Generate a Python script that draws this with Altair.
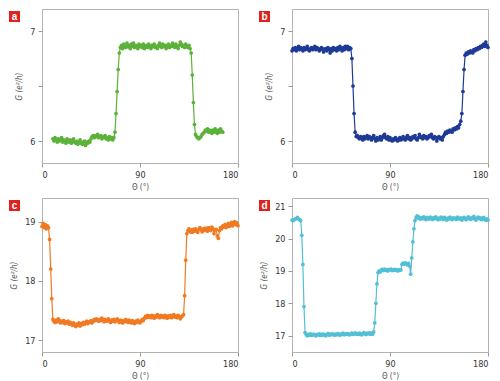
import altair as alt
import pandas as pd

# ---------------- data ----------------
theta_a = list(range(10, 167))
g_a = [
    6.02, 6.00, 6.03, 6.01, 5.99, 6.02, 6.00, 6.01, 6.03, 5.99,
    6.01, 6.00, 5.98, 6.02, 6.00, 5.99, 6.01, 5.98, 6.00, 6.02,
    5.99, 5.98, 6.00, 5.97, 5.99, 6.01, 5.98, 5.97, 5.99, 6.00,
    5.96, 5.99, 5.98, 6.00, 5.99, 6.02, 6.04, 6.05, 6.03, 6.05,
    6.04, 6.06, 6.03, 6.04, 6.05, 6.02, 6.04, 6.03, 6.05, 6.02,
    6.03, 6.01, 6.04, 6.02, 6.03, 6.01, 6.03, 6.08, 6.25, 6.45,
    6.65, 6.80, 6.85, 6.87, 6.84, 6.88, 6.86, 6.85, 6.89, 6.86,
    6.87, 6.84, 6.88, 6.86, 6.89, 6.85, 6.87, 6.86, 6.84, 6.88,
    6.86, 6.87, 6.85, 6.88, 6.84, 6.86, 6.87, 6.85, 6.88, 6.86,
    6.84, 6.87, 6.86, 6.88, 6.85, 6.86, 6.84, 6.87, 6.89, 6.86,
    6.85, 6.88, 6.86, 6.87, 6.84, 6.86, 6.88, 6.85, 6.87, 6.86,
    6.89, 6.87, 6.85, 6.88, 6.86, 6.84, 6.87, 6.90, 6.88, 6.86,
    6.87, 6.85, 6.88, 6.86, 6.85, 6.87, 6.84, 6.80, 6.60, 6.35,
    6.15, 6.06, 6.04, 6.03, 6.02, 6.03, 6.04, 6.06, 6.07, 6.08,
    6.10, 6.09, 6.11, 6.08, 6.10, 6.09, 6.07, 6.10, 6.08, 6.11,
    6.09, 6.07, 6.10, 6.08, 6.11, 6.09, 6.08,
]

theta_b = list(range(0, 181))
g_b = [
    6.82, 6.84, 6.83, 6.85, 6.82, 6.84, 6.86, 6.83, 6.85, 6.84,
    6.82, 6.85, 6.83, 6.84, 6.86, 6.83, 6.82, 6.84, 6.85, 6.83,
    6.84, 6.86, 6.83, 6.85, 6.84, 6.82, 6.83, 6.85, 6.84, 6.81,
    6.83, 6.84, 6.82, 6.85, 6.83, 6.80, 6.84, 6.82, 6.85, 6.83,
    6.84, 6.82, 6.85, 6.83, 6.86, 6.84, 6.82, 6.85, 6.83, 6.86,
    6.84, 6.86, 6.83, 6.85, 6.84, 6.75, 6.50, 6.25, 6.08, 6.04,
    6.05, 6.03, 6.02, 6.04, 6.03, 6.01, 6.04, 6.02, 6.03, 6.05,
    6.02, 6.04, 6.03, 6.01, 6.03, 6.05, 6.02, 6.00, 6.03, 6.01,
    6.02, 6.04, 6.01, 6.03, 6.05, 6.06, 6.03, 6.02, 6.04, 6.01,
    6.03, 6.01, 6.00, 6.02, 6.01, 6.03, 6.02, 6.00, 6.01, 6.03,
    6.01, 6.02, 6.04, 6.02, 6.01, 6.03, 6.05, 6.02, 6.03, 6.01,
    6.02, 6.04, 6.03, 6.05, 6.02, 6.01, 6.03, 6.06, 6.04, 6.03,
    6.02, 6.05, 6.03, 6.04, 6.02, 6.03, 6.05, 6.04, 6.06, 6.03,
    6.02, 6.04, 6.03, 6.00, 6.03, 6.04, 6.02, 6.03, 6.01, 6.04,
    6.06, 6.08, 6.07, 6.09, 6.08, 6.10, 6.09, 6.08, 6.11, 6.10,
    6.12, 6.11, 6.13, 6.12, 6.15, 6.18, 6.25, 6.45, 6.65, 6.78,
    6.80, 6.79, 6.81, 6.80, 6.82, 6.81, 6.80, 6.83, 6.82, 6.84,
    6.83, 6.85, 6.84, 6.86, 6.85, 6.87, 6.88, 6.86, 6.90, 6.87,
    6.85,
]

theta_c = list(range(0, 181))
g_c = [
    18.92, 18.97, 18.90, 18.95, 18.88, 18.93, 18.90, 18.70, 18.20, 17.70,
    17.35, 17.32, 17.30, 17.34, 17.31, 17.36, 17.33, 17.29, 17.32, 17.30,
    17.33, 17.28, 17.31, 17.29, 17.32, 17.27, 17.30, 17.28, 17.25, 17.29,
    17.26, 17.23, 17.27, 17.25, 17.29, 17.24, 17.28, 17.26, 17.30, 17.27,
    17.29, 17.32, 17.28, 17.31, 17.30, 17.33, 17.29, 17.32, 17.35, 17.33,
    17.36, 17.34, 17.32, 17.35, 17.33, 17.37, 17.34, 17.31, 17.35, 17.33,
    17.32, 17.36, 17.33, 17.30, 17.34, 17.32, 17.35, 17.31, 17.33, 17.36,
    17.33, 17.30, 17.34, 17.32, 17.29, 17.33, 17.31, 17.35, 17.32, 17.30,
    17.34, 17.31, 17.29, 17.33, 17.30, 17.28, 17.32, 17.30, 17.34, 17.31,
    17.29, 17.32, 17.35, 17.33, 17.37, 17.40, 17.38, 17.42, 17.39, 17.41,
    17.38, 17.42, 17.40, 17.37, 17.41, 17.39, 17.43, 17.40, 17.38, 17.42,
    17.39, 17.41, 17.38, 17.42, 17.40, 17.37, 17.41, 17.39, 17.42, 17.38,
    17.40, 17.43, 17.39, 17.41, 17.38, 17.42, 17.40, 17.36, 17.39, 17.41,
    17.43, 17.75, 18.35, 18.80, 18.85, 18.88, 18.83, 18.86, 18.82, 18.87,
    18.84, 18.88, 18.85, 18.82, 18.87, 18.90, 18.86, 18.83, 18.88, 18.85,
    18.89, 18.86, 18.84, 18.90, 18.87, 18.85, 18.91, 18.88, 18.80, 18.86,
    18.87, 18.76, 18.72, 18.85, 18.90, 18.88, 18.93, 18.91, 18.95, 18.90,
    18.94, 18.97, 18.92, 18.96, 18.99, 18.93, 18.97, 19.00, 18.95, 18.98,
    18.93,
]

theta_d = list(range(0, 181))
g_d = [
    20.57, 20.55, 20.58, 20.60, 20.62, 20.65, 20.60, 20.58, 20.55, 20.10,
    19.20, 17.90, 17.10, 17.05, 17.00, 17.04, 17.02, 17.06, 17.01, 17.03,
    17.05, 17.02, 17.00, 17.04, 17.03, 17.06, 17.01, 17.04, 17.02, 17.05,
    17.03, 17.00, 17.04, 17.07, 17.02, 17.05, 17.03, 17.06, 17.04, 17.02,
    17.05, 17.03, 17.07, 17.04, 17.02, 17.06, 17.04, 17.08, 17.03, 17.05,
    17.07, 17.04, 17.06, 17.03, 17.05, 17.08, 17.04, 17.06, 17.09, 17.05,
    17.07, 17.04, 17.08, 17.05, 17.03, 17.07, 17.10, 17.06, 17.04, 17.08,
    17.06, 17.09, 17.05, 17.08, 17.05, 17.12, 17.40, 18.00, 18.60, 18.95,
    19.00, 18.97, 19.03, 19.05, 19.01, 19.06, 19.02, 19.04, 19.00, 19.05,
    19.03, 19.06, 19.01, 19.04, 19.02, 19.05, 19.03, 19.00, 19.04, 19.02,
    19.03, 19.20, 19.24, 19.21, 19.25, 19.22, 19.19, 19.23, 19.15, 18.90,
    19.40, 19.90, 20.30, 20.55, 20.65, 20.70, 20.62, 20.66, 20.60, 20.64,
    20.61, 20.67, 20.63, 20.58, 20.65, 20.62, 20.60, 20.66, 20.63, 20.59,
    20.64, 20.61, 20.67, 20.62, 20.58, 20.63, 20.60, 20.66, 20.62, 20.59,
    20.65, 20.61, 20.57, 20.63, 20.60, 20.66, 20.62, 20.58, 20.64, 20.61,
    20.63, 20.59, 20.66, 20.62, 20.60, 20.64, 20.57, 20.62, 20.65, 20.60,
    20.58, 20.63, 20.67, 20.61, 20.59, 20.64, 20.62, 20.68, 20.60, 20.57,
    20.63, 20.66, 20.61, 20.64, 20.58, 20.62, 20.65, 20.59, 20.56, 20.61,
    20.57,
]

panels = [
    ("a", theta_a, g_a, "#5bb23a", [5.8, 7.2], [6, 6.5, 7]),
    ("b", theta_b, g_b, "#1f3a96", [5.8, 7.2], [6, 6.5, 7]),
    ("c", theta_c, g_c, "#f07a22", [16.8, 19.4], [17, 18, 19]),
    ("d", theta_d, g_d, "#52c0d4", [16.5, 21.25], [17, 18, 19, 20, 21]),
]
x_ticks = [0, 90, 180]

FONT = "Liberation Sans Narrow, DejaVu Sans Condensed, Liberation Sans, sans-serif"
W, H = 196, 154


def panel(label, xs, ys, color, ydom, yticks):
    df = pd.DataFrame({"theta": xs, "G": ys})
    base = alt.Chart(df)
    xenc = alt.X(
        "theta:Q",
        scale=alt.Scale(domain=[0, 180], nice=False),
        axis=alt.Axis(values=x_ticks, title="Θ (°)", grid=False),
    )
    yenc = alt.Y(
        "G:Q",
        scale=alt.Scale(domain=ydom, nice=False, zero=False),
        axis=alt.Axis(
            values=yticks,
            title="G (e²/h)",
            grid=False,
            labelExpr="datum.value % 1 == 0 ? format(datum.value, 'd') : ''",
        ),
    )
    line = base.mark_line(color=color, strokeWidth=1.2).encode(x=xenc, y=yenc)
    pts = base.mark_circle(color=color, size=14, opacity=1).encode(x=xenc, y=yenc)
    lab = pd.DataFrame({"l": [label]})
    box = alt.Chart(lab).mark_rect(color="#e0221f").encode(
        x=alt.value(-33), x2=alt.value(-22), y=alt.value(2), y2=alt.value(13)
    )
    txt = alt.Chart(lab).mark_text(
        color="white", font="Liberation Sans, sans-serif", fontSize=10,
        fontWeight="bold", align="center", baseline="middle"
    ).encode(x=alt.value(-27.5), y=alt.value(7.5), text="l:N")
    return alt.layer(line, pts, box, txt).properties(width=W, height=H)


charts = [panel(*p) for p in panels]

chart = alt.concat(*charts, columns=2, spacing={"row": 5, "column": 17}).properties(
    padding=0
).configure_view(
    stroke="#b3b3b3", strokeWidth=1
).configure_axis(
    domain=False,
    tickColor="#9a9a9a",
    tickSize=4,
    labelFont=FONT,
    labelFontSize=9,
    labelColor="#333333",
    labelPadding=3,
    titleFont=FONT,
    titleFontSize=8,
    titleColor="#555555",
    titleFontWeight="normal",
).configure_axisY(
    titleFontStyle="italic",
    titlePadding=6,
).configure_axisX(
    titlePadding=4,
)

chart.save("out.html", embed_options={"renderer": "svg", "actions": False})
